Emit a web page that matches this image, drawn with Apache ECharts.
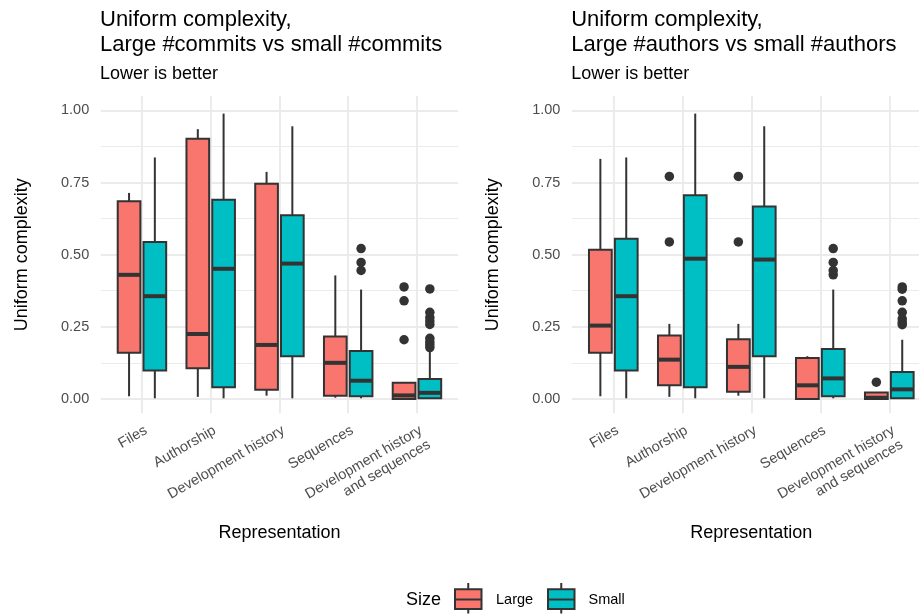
<!DOCTYPE html>
<html><head><meta charset="utf-8">
<script src="https://cdn.jsdelivr.net/npm/echarts@6/dist/echarts.min.js"></script>
<style>html,body{margin:0;padding:0;background:#fff}#chart{width:919px;height:614px}</style>
</head><body><div id="chart"></div>
<script>
const categories = ['Files', 'Authorship', 'Development history', 'Sequences', 'Development history\nand sequences'];
const yTicks = [0, 0.25, 0.5, 0.75, 1.0];
const yTickLabels = ['0.00', '0.25', '0.50', '0.75', '1.00'];
const yMinorTicks = [0.125, 0.375, 0.625, 0.875];
const sizeLevels = ['Large', 'Small'];
const panelTitles = ['Uniform complexity,\nLarge #commits vs small #commits', 'Uniform complexity,\nLarge #authors vs small #authors'];
const subtitle = 'Lower is better';
const yTitle = 'Uniform complexity';
const xTitle = 'Representation';
const legendTitle = 'Size';

// box statistics per category: [lower whisker, Q1, median, Q3, upper whisker]
const commitsLarge = [
  [0.009, 0.160, 0.430, 0.685, 0.714],
  [0.007, 0.106, 0.225, 0.902, 0.935],
  [0.011, 0.032, 0.187, 0.746, 0.787],
  [0.004, 0.011, 0.125, 0.216, 0.428],
  [0.000, 0.000, 0.012, 0.056, 0.056]
];
const commitsSmall = [
  [0.002, 0.098, 0.356, 0.544, 0.837],
  [0.002, 0.040, 0.451, 0.690, 0.989],
  [0.002, 0.148, 0.469, 0.637, 0.945],
  [0.002, 0.009, 0.063, 0.166, 0.379],
  [0.000, 0.002, 0.021, 0.069, 0.168]
];
const commitsLargeOutliers = [[], [], [], [], [0.388, 0.340, 0.205]];
const commitsSmallOutliers = [[], [], [], [0.521, 0.473, 0.445], [0.381, 0.300, 0.282, 0.270, 0.258, 0.210, 0.198, 0.188, 0.178]];

const authorsLarge = [
  [0.009, 0.160, 0.254, 0.517, 0.832],
  [0.007, 0.047, 0.136, 0.220, 0.260],
  [0.011, 0.025, 0.111, 0.207, 0.260],
  [0.000, 0.000, 0.047, 0.142, 0.148],
  [0.000, 0.000, 0.004, 0.022, 0.022]
];
const authorsSmall = [
  [0.002, 0.098, 0.356, 0.555, 0.837],
  [0.002, 0.040, 0.486, 0.706, 0.989],
  [0.002, 0.148, 0.483, 0.667, 0.945],
  [0.002, 0.009, 0.071, 0.173, 0.379],
  [0.000, 0.002, 0.033, 0.093, 0.205]
];
const authorsLargeOutliers = [[], [0.771, 0.544], [0.771, 0.544], [], [0.058]];
const authorsSmallOutliers = [[], [], [], [0.521, 0.473, 0.445, 0.430], [0.388, 0.380, 0.340, 0.300, 0.277, 0.265, 0.257]];

const FONT = "'Liberation Sans', Arial, Helvetica, sans-serif";
const COLORS = ['#F8766D', '#00BFC4'];
const INK = '#333333';
const GRID_COL = '#EBEBEB';
const OFFSETS = [-0.1875, 0.1875];
const BOX_W = 0.33;
const LW = 2;

const panels = [
  { left: 100.7, width: 357.5, stats: [commitsLarge, commitsSmall], outl: [commitsLargeOutliers, commitsSmallOutliers] },
  { left: 571.9, width: 358.8, stats: [authorsLarge, authorsSmall], outl: [authorsLargeOutliers, authorsSmallOutliers] }
];
const TOP = 96, HEIGHT = 317.3;

const chart = echarts.init(document.getElementById('chart'), null, { renderer: 'canvas' });

const grids = [], xAxes = [], yAxes = [], series = [], titles = [];
panels.forEach((p, pi) => {
  grids.push({ left: p.left, width: p.width, top: TOP, height: HEIGHT, containLabel: false, outerBoundsMode: 'none' });
  titles.push({
    text: panelTitles[pi], subtext: subtitle, left: p.left - 0.7, top: 8, padding: 0, itemGap: 7,
    textStyle: { fontSize: 22, lineHeight: 24.5, fontWeight: 'normal', color: '#000', fontFamily: FONT },
    subtextStyle: { fontSize: 18, lineHeight: 20, color: '#000', fontFamily: FONT }
  });
  xAxes.push({
    type: 'value', gridIndex: pi, min: 0.4, max: 5.6,
    name: xTitle, nameLocation: 'middle', nameGap: 111, nameMoveOverlap: false,
    nameTextStyle: { fontSize: 18, color: '#000', fontFamily: FONT, lineHeight: 18 },
    axisLine: { show: false },
    axisTick: { show: false, customValues: [1, 2, 3, 4, 5] },
    axisLabel: {
      customValues: [1, 2, 3, 4, 5], rotate: 30, align: 'right', verticalAlign: 'top', margin: 9,
      fontSize: 14.5, lineHeight: 16.5, color: '#4D4D4D', fontFamily: FONT,
      formatter: v => categories[Math.round(v) - 1]
    },
    splitLine: { show: true, lineStyle: { color: GRID_COL, width: 1.9 } }
  });
  yAxes.push({
    type: 'value', gridIndex: pi, min: -0.05, max: 1.05,
    name: yTitle, nameLocation: 'middle', nameRotate: 90, nameGap: 70, nameMoveOverlap: false,
    nameTextStyle: { fontSize: 18, color: '#000', fontFamily: FONT, lineHeight: 18 },
    axisLine: { show: false },
    axisTick: { show: false, customValues: yTicks },
    axisLabel: {
      customValues: yTicks, margin: 11.5, fontSize: 14.5, color: '#4D4D4D', fontFamily: FONT,
      formatter: v => yTickLabels[yTicks.findIndex(t => Math.abs(t - v) < 1e-9)]
    },
    splitLine: { show: true, lineStyle: { color: GRID_COL, width: 1.9 } }
  });
  yAxes.push({
    type: 'value', gridIndex: pi, min: -0.05, max: 1.05,
    axisLine: { show: false },
    axisTick: { show: false, customValues: yMinorTicks },
    axisLabel: { show: false, customValues: yMinorTicks },
    splitLine: { show: true, lineStyle: { color: GRID_COL, width: 1 } }
  });
  p.stats.forEach((st, si) => {
    const off = OFFSETS[si];
    const col = COLORS[si];
    series.push({
      type: 'custom', name: sizeLevels[si], xAxisIndex: pi, yAxisIndex: pi * 2,
      encode: { x: 0, y: [1, 2, 3, 4, 5] },
      data: st.map((s, i) => [i + 1].concat(s)),
      z: 2,
      renderItem: (params, api) => {
        const x = api.value(0) + off;
        const lo = api.coord([x, api.value(1)]);
        const q1 = api.coord([x, api.value(2)]);
        const md = api.coord([x, api.value(3)]);
        const q3 = api.coord([x, api.value(4)]);
        const hi = api.coord([x, api.value(5)]);
        const w = api.size([BOX_W, 0])[0];
        const ls = { stroke: INK, lineWidth: LW };
        return {
          type: 'group', children: [
            { type: 'line', shape: { x1: lo[0], y1: lo[1], x2: lo[0], y2: q1[1] }, style: ls },
            { type: 'line', shape: { x1: hi[0], y1: hi[1], x2: hi[0], y2: q3[1] }, style: ls },
            { type: 'rect', shape: { x: q3[0] - w / 2, y: q3[1], width: w, height: q1[1] - q3[1] }, style: { fill: col, stroke: INK, lineWidth: LW } },
            { type: 'line', shape: { x1: md[0] - w / 2, y1: md[1], x2: md[0] + w / 2, y2: md[1] }, style: { stroke: INK, lineWidth: 4 } }
          ]
        };
      }
    });
    const pts = [];
    p.outl[si].forEach((arr, i) => arr.forEach(v => pts.push([i + 1 + off, v])));
    series.push({
      type: 'scatter', name: sizeLevels[si] + ' outliers', xAxisIndex: pi, yAxisIndex: pi * 2,
      data: pts, symbol: 'circle', symbolSize: 9.5, z: 3,
      itemStyle: { color: INK, opacity: 1 }, silent: true
    });
  });
});

// legend drawn as graphic elements (boxplot key glyphs)
const legendY = 599.5;
function keyGlyph(x, col) {
  return {
    type: 'group', children: [
      { type: 'line', shape: { x1: x + 13.25, y1: legendY - 16.5, x2: x + 13.25, y2: legendY + 14 }, style: { stroke: INK, lineWidth: LW } },
      { type: 'rect', shape: { x: x, y: legendY - 10.2, width: 26.5, height: 19.8 }, style: { fill: col, stroke: INK, lineWidth: LW } },
      { type: 'line', shape: { x1: x, y1: legendY, x2: x + 26.5, y2: legendY }, style: { stroke: INK, lineWidth: LW } }
    ]
  };
}
const graphic = [
  { type: 'text', x: 406, y: 600, style: { text: legendTitle, fontSize: 18, fontFamily: FONT, fill: '#000', align: 'left', verticalAlign: 'middle', textVerticalAlign: 'middle' } },
  keyGlyph(455, COLORS[0]),
  { type: 'text', x: 496, y: 600, style: { text: sizeLevels[0], fontSize: 14.5, fontFamily: FONT, fill: '#000', align: 'left', verticalAlign: 'middle', textVerticalAlign: 'middle' } },
  keyGlyph(548, COLORS[1]),
  { type: 'text', x: 588.5, y: 600, style: { text: sizeLevels[1], fontSize: 14.5, fontFamily: FONT, fill: '#000', align: 'left', verticalAlign: 'middle', textVerticalAlign: 'middle' } }
];

chart.setOption({
  backgroundColor: '#fff',
  animation: false,
  textStyle: { fontFamily: FONT },
  title: titles,
  grid: grids,
  xAxis: xAxes,
  yAxis: yAxes,
  series: series,
  graphic: graphic
});
</script></body></html>
